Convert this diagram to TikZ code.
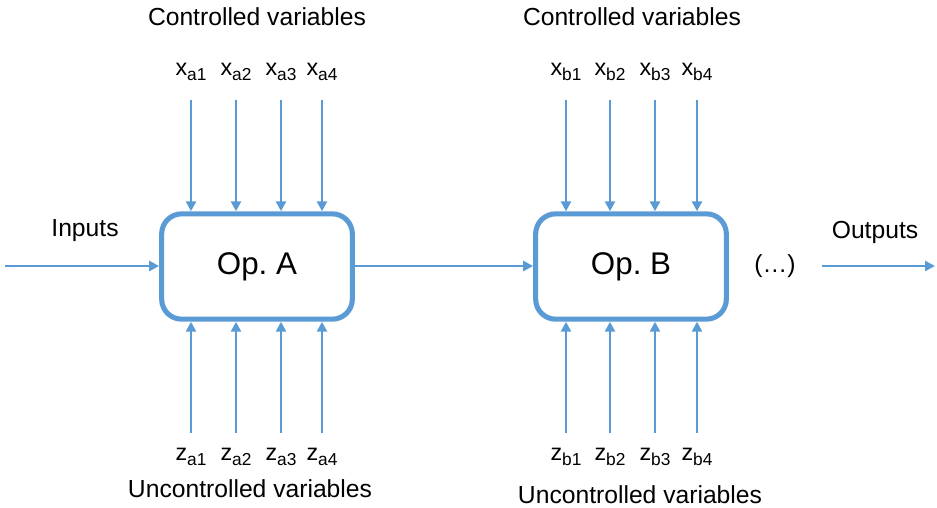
\documentclass[tikz,border=0pt]{standalone}
\usepackage{fontspec}
\setmainfont{Liberation Sans}
\usetikzlibrary{arrows.meta}
\definecolor{opblue}{RGB}{91,155,213}
\frenchspacing
\newcommand{\varsub}[2]{#1\raisebox{-0.45ex}{\fontsize{13}{15}\selectfont #2}}
\tikzset{
  opbox/.style={draw=opblue, line width=3.8pt, rounded corners=15pt, fill=white,
    minimum width=143pt, minimum height=79pt, inner sep=0pt, font=\fontsize{23.5}{28}\selectfont},
  flow/.style={draw=opblue, line width=2.1pt, -{Triangle[length=7.5pt,width=7.5pt]}},
  lbl/.style={font=\fontsize{18.5}{22}\selectfont, inner sep=0pt},
  vlbl/.style={font=\fontsize{17.5}{20}\selectfont, inner sep=0pt}
}
\begin{document}
\begin{tikzpicture}[x=0.75pt, y=-0.75pt]
  \useasboundingbox (0,0) rectangle (937,507);

  % the two operations
  \node[opbox] (A) at (257,266.5) {Op. A};
  \node[opbox] (B) at (631,266.5) {Op. B};

  % main flow
  \coordinate (in) at (5,266);
  \coordinate (outs) at (822,266);
  \coordinate (oute) at (935,266);
  \draw[flow] (in) -- (A.west |- in);
  \draw[flow] (A.east |- in) -- (B.west |- in);
  \draw[flow] (outs) -- (oute);
  \node[lbl] (inputs) at (85,231) {Inputs};
  \node[lbl] (outputs) at (875,232) {Outputs};
  \node[lbl] (dots) at (775,266) {(\dots)};

  % group headings
  \node[lbl] (ctrlA) at (257,17) {Controlled variables};
  \node[lbl] (ctrlB) at (632,17) {Controlled variables};
  \node[lbl] (uncA) at (250,489) {Uncontrolled variables};
  \node[lbl] (uncB) at (640,495) {Uncontrolled variables};

  % controlled and uncontrolled variables of Op. A
  \foreach \i/\x in {1/191,2/236,3/281,4/322}{
    \node[vlbl] (xa\i) at (\x,72) {\varsub{x}{a\i}};
    \node[vlbl] (za\i) at (\x,457) {\varsub{z}{a\i}};
    \coordinate (xa\i s) at (\x,100);
    \coordinate (za\i s) at (\x,433);
    \draw[flow] (xa\i s) -- (xa\i s |- A.north);
    \draw[flow] (za\i s) -- (za\i s |- A.south);
  }

  % controlled and uncontrolled variables of Op. B
  \foreach \i/\x in {1/566,2/610,3/655,4/697}{
    \node[vlbl] (xb\i) at (\x,72) {\varsub{x}{b\i}};
    \node[vlbl] (zb\i) at (\x,457) {\varsub{z}{b\i}};
    \coordinate (xb\i s) at (\x,100);
    \coordinate (zb\i s) at (\x,433);
    \draw[flow] (xb\i s) -- (xb\i s |- B.north);
    \draw[flow] (zb\i s) -- (zb\i s |- B.south);
  }
\end{tikzpicture}
\end{document}
